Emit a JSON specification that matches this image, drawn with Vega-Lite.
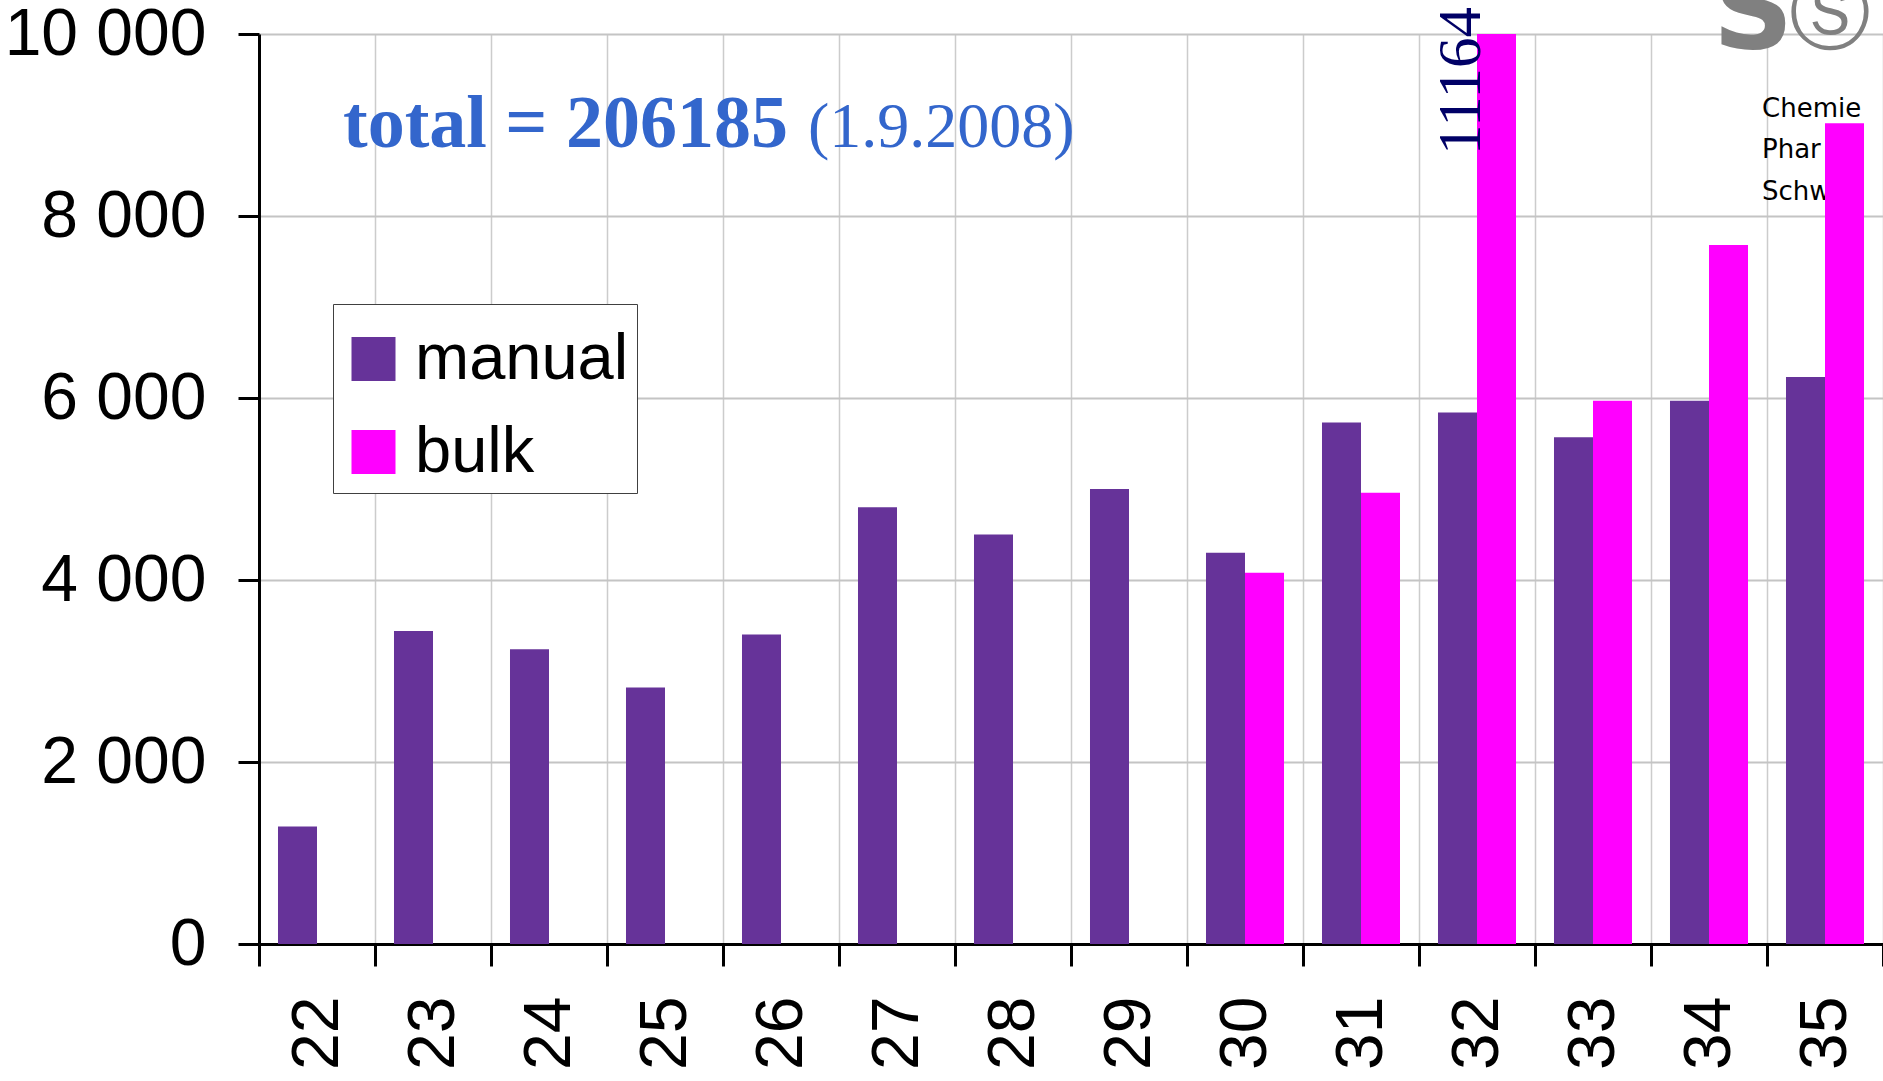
{
  "$schema": "https://vega.github.io/schema/vega-lite/v6.json",
  "width": 1624,
  "height": 910,
  "autosize": {"type": "none"},
  "padding": {"left": 259, "top": 34, "right": 0, "bottom": 137},
  "background": "white",
  "config": {"view": {"stroke": null}},
  "datasets": {
    "bars": [
      {"volume": "22", "series": "manual", "count": 1290},
      {"volume": "23", "series": "manual", "count": 3440},
      {"volume": "24", "series": "manual", "count": 3240},
      {"volume": "25", "series": "manual", "count": 2820},
      {"volume": "26", "series": "manual", "count": 3400},
      {"volume": "27", "series": "manual", "count": 4800},
      {"volume": "28", "series": "manual", "count": 4500},
      {"volume": "29", "series": "manual", "count": 5000},
      {"volume": "30", "series": "manual", "count": 4300},
      {"volume": "30", "series": "bulk", "count": 4080},
      {"volume": "31", "series": "manual", "count": 5730},
      {"volume": "31", "series": "bulk", "count": 4960},
      {"volume": "32", "series": "manual", "count": 5840},
      {"volume": "32", "series": "bulk", "count": 11164},
      {"volume": "33", "series": "manual", "count": 5570},
      {"volume": "33", "series": "bulk", "count": 5970},
      {"volume": "34", "series": "manual", "count": 5970},
      {"volume": "34", "series": "bulk", "count": 7680},
      {"volume": "35", "series": "manual", "count": 6230},
      {"volume": "35", "series": "bulk", "count": 9020}
    ]
  },
  "layer": [
    {
      "data": {"values": [{}]},
      "mark": {"type": "text", "text": ["Chemie", "Phar", "Schw"], "font": "DejaVu Sans", "fontSize": 26, "align": "left", "baseline": "alphabetic", "lineHeight": 41.5, "dx": -63, "color": "black"},
      "encoding": {
        "x": {"datum": "35", "type": "nominal", "axis": {"title": null}},
        "y": {"datum": 9088, "type": "quantitative", "axis": {"title": null}}
      }
    },
    {
      "data": {"name": "bars"},
      "mark": {"type": "bar", "clip": true},
      "encoding": {
        "x": {
          "field": "volume", "type": "nominal", "sort": null,
          "scale": {"domain": ["22","23","24","25","26","27","28","29","30","31","32","33","34","35"], "paddingInner": 0, "paddingOuter": 0},
          "axis": {"title": null, "tickBand": "extent", "labelAngle": 270, "labelAlign": "right", "labelBaseline": "middle", "labelFont": "Liberation Sans", "labelFontSize": 66, "labelColor": "black", "labelPadding": 30, "labelLimit": 0, "tickSize": 22, "tickWidth": 3, "tickColor": "black", "domainColor": "black", "domainWidth": 3, "grid": true, "gridColor": "#cccccc", "gridWidth": 1.5}
        },
        "xOffset": {"field": "series", "type": "nominal", "scale": {"domain": ["manual", "bulk"], "paddingOuter": 0.487, "paddingInner": 0}},
        "y": {
          "field": "count", "type": "quantitative",
          "scale": {"domain": [0, 10000], "nice": false},
          "axis": {"title": null, "values": [0, 2000, 4000, 6000, 8000, 10000], "labelExpr": "replace(format(datum.value, ','), ',', ' ')", "labelFont": "Liberation Sans", "labelFontSize": 66, "labelColor": "black", "labelPadding": 32, "labelLimit": 0, "tickSize": 21, "tickWidth": 3, "tickColor": "black", "domainColor": "black", "domainWidth": 3, "grid": true, "gridColor": "#c4c4c4", "gridWidth": 2}
        },
        "color": {
          "field": "series", "type": "nominal",
          "scale": {"domain": ["manual", "bulk"], "range": ["#663399", "#FF00FF"]},
          "legend": {"title": " ", "titleFontSize": 8, "titlePadding": 6.5, "orient": "none", "legendX": 74, "legendY": 270, "direction": "vertical", "symbolType": "square", "symbolSize": 1936, "symbolStrokeWidth": 0, "symbolOpacity": 1, "labelFont": "Liberation Sans", "labelFontSize": 65, "labelColor": "black", "labelOffset": 9, "rowPadding": 27, "padding": 8, "strokeColor": "#404040", "fillColor": "white", "labelLimit": 0}
        }
      }
    },
    {
      "data": {"values": [{}]},
      "mark": {"type": "text", "text": "11164", "font": "Liberation Serif", "fontSize": 61, "color": "#000066", "angle": 270, "align": "left", "baseline": "alphabetic", "dy": 23},
      "encoding": {
        "x": {"datum": "32", "type": "nominal", "axis": {"title": null}},
        "xOffset": {"datum": "manual", "type": "nominal"},
        "y": {"datum": 8670, "type": "quantitative", "axis": {"title": null}}
      }
    },
    {
      "data": {"values": [{}]},
      "mark": {"type": "text", "text": "total = 206185", "font": "Liberation Serif", "fontWeight": "bold", "fontSize": 74, "color": "#3366CC", "align": "left", "baseline": "alphabetic", "dx": 26},
      "encoding": {
        "x": {"datum": "22", "type": "nominal", "axis": {"title": null}},
        "y": {"datum": 8758, "type": "quantitative", "axis": {"title": null}}
      }
    },
    {
      "data": {"values": [{}]},
      "mark": {"type": "text", "text": "(1.9.2008)", "font": "Liberation Serif", "fontSize": 64, "color": "#3366CC", "align": "left", "baseline": "alphabetic", "dx": 27},
      "encoding": {
        "x": {"datum": "26", "type": "nominal", "axis": {"title": null}},
        "y": {"datum": 8758, "type": "quantitative", "axis": {"title": null}}
      }
    },
    {
      "data": {"values": [{}]},
      "mark": {"type": "text", "text": "S", "font": "DejaVu Sans", "fontWeight": "bold", "fontSize": 112, "color": "#808080", "align": "center", "baseline": "alphabetic", "dx": -72},
      "encoding": {
        "x": {"datum": "35", "type": "nominal", "axis": {"title": null}},
        "y": {"datum": 9846, "type": "quantitative", "axis": {"title": null}}
      }
    },
    {
      "data": {"values": [{}]},
      "mark": {"type": "text", "text": "Ⓢ", "font": "DejaVu Sans", "fontSize": 82, "color": "#808080", "align": "center", "baseline": "alphabetic", "dx": 5},
      "encoding": {
        "x": {"datum": "35", "type": "nominal", "axis": {"title": null}},
        "y": {"datum": 9923, "type": "quantitative", "axis": {"title": null}}
      }
    }
  ]
}
